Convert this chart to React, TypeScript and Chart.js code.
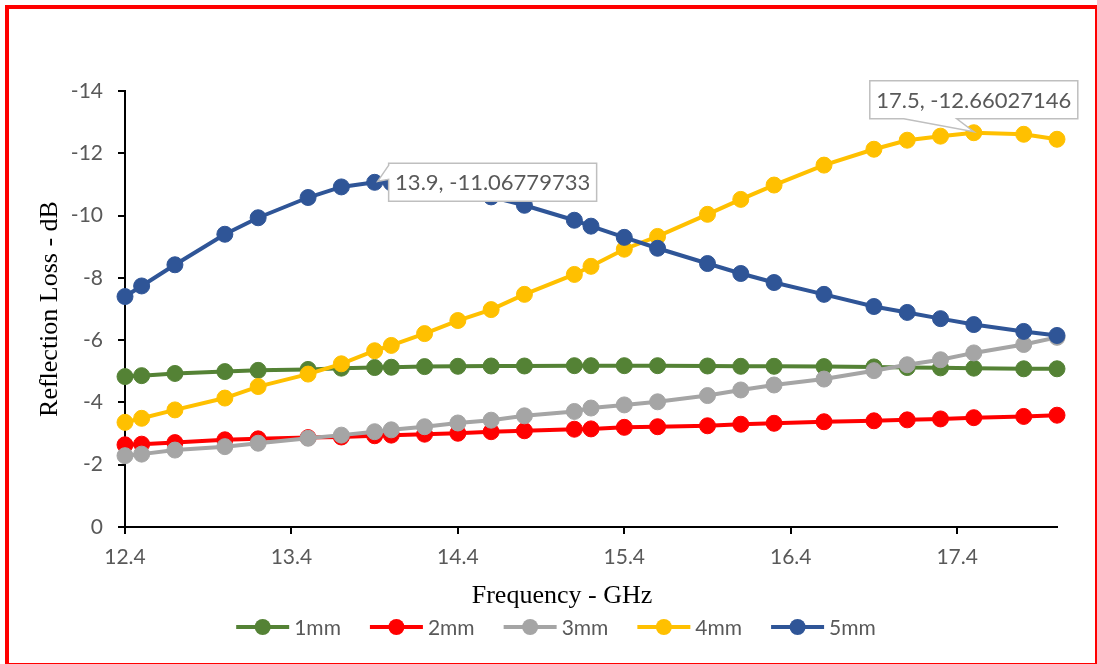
import React, { useEffect, useRef } from 'react';
import { Chart, registerables } from 'chart.js';

Chart.register(...registerables);

// ---------- data ----------
const frequencies = [12.4, 12.5, 12.7, 13.0, 13.2, 13.5, 13.7, 13.9, 14.0, 14.2, 14.4, 14.6, 14.8, 15.1, 15.2, 15.4, 15.6, 15.9, 16.1, 16.3, 16.6, 16.9, 17.1, 17.3, 17.5, 17.8, 18.0];

const loss1mm = [-4.83, -4.86, -4.93, -4.99, -5.03, -5.06, -5.10, -5.12, -5.13, -5.15, -5.16, -5.17, -5.17, -5.18, -5.18, -5.18, -5.18, -5.17, -5.16, -5.16, -5.15, -5.14, -5.12, -5.11, -5.10, -5.08, -5.08];
const loss2mm = [-2.64, -2.66, -2.71, -2.80, -2.83, -2.87, -2.89, -2.93, -2.95, -2.98, -3.01, -3.06, -3.09, -3.14, -3.15, -3.20, -3.22, -3.25, -3.30, -3.33, -3.38, -3.41, -3.44, -3.47, -3.51, -3.55, -3.59];
const loss3mm = [-2.29, -2.34, -2.47, -2.58, -2.69, -2.85, -2.95, -3.06, -3.12, -3.22, -3.34, -3.43, -3.57, -3.71, -3.82, -3.92, -4.02, -4.22, -4.40, -4.56, -4.75, -5.02, -5.21, -5.37, -5.59, -5.86, -6.09];
const loss4mm = [-3.36, -3.49, -3.76, -4.14, -4.51, -4.91, -5.24, -5.66, -5.83, -6.21, -6.63, -6.98, -7.47, -8.11, -8.37, -8.92, -9.33, -10.04, -10.52, -10.98, -11.62, -12.13, -12.42, -12.55, -12.66027146, -12.61, -12.45];
const loss5mm = [-7.40, -7.74, -8.42, -9.40, -9.93, -10.58, -10.92, -11.06779733, -11.05, -10.96, -10.80, -10.60, -10.33, -9.85, -9.66, -9.30, -8.95, -8.46, -8.14, -7.85, -7.47, -7.08, -6.89, -6.69, -6.50, -6.28, -6.15];

const seriesNames = ['1mm', '2mm', '3mm', '4mm', '5mm'];
const seriesValues = [loss1mm, loss2mm, loss3mm, loss4mm, loss5mm];
const seriesColors = ['#548235', '#FF0000', '#A5A5A5', '#FFC000', '#2F5597'];

const xTickValues = [12.4, 13.4, 14.4, 15.4, 16.4, 17.4];
const xMin = 12.4;
const xMax = 18.0;
const yMin = -14;
const yMax = 0;
const yStep = 2;

const calloutX = [13.9, 17.5];
const calloutY = [-11.06779733, -12.66027146];
const calloutSide = ['right', 'above'];

const xTitle = 'Frequency - GHz';
const yTitle = 'Reflection Loss - dB';

const TEXT_GREY = '#595959';

// ---------- plugins ----------
const calloutPlugin = {
  id: 'callouts',
  afterDatasetsDraw(chart: any) {
    const ctx = chart.ctx;
    const xs = chart.scales.x;
    const ys = chart.scales.y;
    ctx.save();
    ctx.font = '22px Lato';
    calloutX.forEach((vx, i) => {
      const vy = calloutY[i];
      const px = xs.getPixelForValue(vx);
      const py = ys.getPixelForValue(vy);
      const text = `${vx}, ${vy}`;
      const w = 208;
      const h = 38;
      let L: number, T: number;
      ctx.beginPath();
      if (calloutSide[i] === 'right') {
        L = px + 14;
        T = py - 19;
        const R = L + w, B = T + h;
        ctx.moveTo(L, T);
        ctx.lineTo(R, T);
        ctx.lineTo(R, B);
        ctx.lineTo(L, B);
        ctx.lineTo(L, T + 16);
        ctx.lineTo(px + 3, py - 1);
        ctx.lineTo(L, T + 2);
        ctx.closePath();
      } else {
        L = px - w / 2;
        T = py - 52;
        const R = L + w, B = T + h;
        ctx.moveTo(L, T);
        ctx.lineTo(R, T);
        ctx.lineTo(R, B);
        ctx.lineTo(px - 17, B);
        ctx.lineTo(px, py - 1);
        ctx.lineTo(px - 70, B);
        ctx.lineTo(L, B);
        ctx.closePath();
      }
      ctx.fillStyle = '#FFFFFF';
      ctx.fill();
      ctx.strokeStyle = '#BFBFBF';
      ctx.lineWidth = 1.5;
      ctx.stroke();
      ctx.fillStyle = TEXT_GREY;
      ctx.textAlign = 'center';
      ctx.textBaseline = 'middle';
      ctx.fillText(text, L + w / 2, T + h / 2 + 1);
    });
    ctx.restore();
  },
};

const legendAndTitlePlugin = {
  id: 'legendAndTitle',
  afterDraw(chart: any) {
    const ctx = chart.ctx;
    const area = chart.chartArea;
    ctx.save();
    // x-axis title
    ctx.font = '26px "Liberation Serif"';
    ctx.fillStyle = '#000000';
    ctx.textAlign = 'center';
    ctx.textBaseline = 'middle';
    ctx.fillText(xTitle, (area.left + area.right) / 2 - 29, area.bottom + 69);

    // legend
    ctx.font = '21px Lato';
    const lineLen = 53;
    const gapText = 5;
    const gapItem = 29;
    const widths = seriesNames.map((n) => lineLen + gapText + ctx.measureText(n).width);
    const total = widths.reduce((a, b) => a + b, 0) + gapItem * (seriesNames.length - 1);
    let x = chart.width / 2 + 4 - total / 2;
    const y = area.bottom + 100;
    seriesNames.forEach((name, i) => {
      ctx.strokeStyle = seriesColors[i];
      ctx.lineWidth = 4;
      ctx.beginPath();
      ctx.moveTo(x, y);
      ctx.lineTo(x + lineLen, y);
      ctx.stroke();
      ctx.fillStyle = seriesColors[i];
      ctx.beginPath();
      ctx.arc(x + lineLen / 2, y, 8, 0, Math.PI * 2);
      ctx.fill();
      ctx.fillStyle = TEXT_GREY;
      ctx.textAlign = 'left';
      ctx.textBaseline = 'middle';
      ctx.fillText(name, x + lineLen + gapText, y + 1);
      x += widths[i] + gapItem;
    });
    ctx.restore();
  },
};

export default function App() {
  const canvasRef = useRef<HTMLCanvasElement | null>(null);

  useEffect(() => {
    if (!canvasRef.current) return;
    const datasets = seriesNames.map((name, i) => ({
      label: name,
      data: frequencies.map((f, j) => ({ x: f, y: seriesValues[i][j] })),
      borderColor: seriesColors[i],
      backgroundColor: seriesColors[i],
      pointBackgroundColor: seriesColors[i],
      pointBorderColor: seriesColors[i],
      borderWidth: 4,
      pointRadius: 8,
      pointBorderWidth: 1,
      tension: 0,
      fill: false,
      clip: false as any,
      order: seriesNames.length - 1 - i,
    }));

    const chart = new Chart(canvasRef.current, {
      type: 'line',
      data: { datasets },
      options: {
        responsive: false,
        maintainAspectRatio: false,
        animation: false,
        devicePixelRatio: 1,
        layout: { padding: { left: 0, top: 82, right: 38, bottom: 0 } },
        plugins: {
          legend: { display: false },
          tooltip: { enabled: false },
        },
        scales: {
          x: {
            type: 'linear',
            min: xMin,
            max: xMax,
            afterBuildTicks: (scale: any) => {
              scale.ticks = xTickValues.map((v) => ({ value: v }));
            },
            afterFit: (scale: any) => {
              scale.height = 136;
            },
            grid: {
              drawOnChartArea: false,
              drawTicks: true,
              tickLength: 7,
              color: '#000000',
              lineWidth: 2,
            },
            border: { display: true, color: '#000000', width: 2 },
            ticks: {
              autoSkip: false,
              maxRotation: 0,
              padding: 11,
              color: TEXT_GREY,
              font: { family: 'Lato', size: 21 },
              callback: (v: any) => Number(v).toFixed(1),
            },
          },
          y: {
            type: 'linear',
            min: yMin,
            max: yMax,
            reverse: true,
            afterFit: (scale: any) => {
              scale.width = 116;
            },
            grid: {
              drawOnChartArea: false,
              drawTicks: true,
              tickLength: 7,
              color: '#000000',
              lineWidth: 2,
            },
            border: { display: true, color: '#000000', width: 2 },
            ticks: {
              stepSize: yStep,
              padding: 15,
              color: TEXT_GREY,
              font: { family: 'Lato', size: 21 },
              callback: (v: any) => String(v),
            },
            title: {
              display: true,
              text: yTitle,
              color: '#000000',
              font: { family: 'Liberation Serif', size: 26, weight: 'normal' },
              padding: { top: 26, bottom: 0 },
            },
          },
        },
      },
      plugins: [calloutPlugin, legendAndTitlePlugin],
    });

    return () => chart.destroy();
  }, []);

  return (
    <div
      style={{
        position: 'absolute',
        left: 5,
        top: 5,
        width: 1094,
        height: 662,
        border: '4px solid #FF0000',
        boxSizing: 'border-box',
        background: '#FFFFFF',
      }}
    >
      <canvas
        ref={canvasRef}
        width={1086}
        height={654}
        style={{ display: 'block', width: 1086, height: 654 }}
      />
    </div>
  );
}
